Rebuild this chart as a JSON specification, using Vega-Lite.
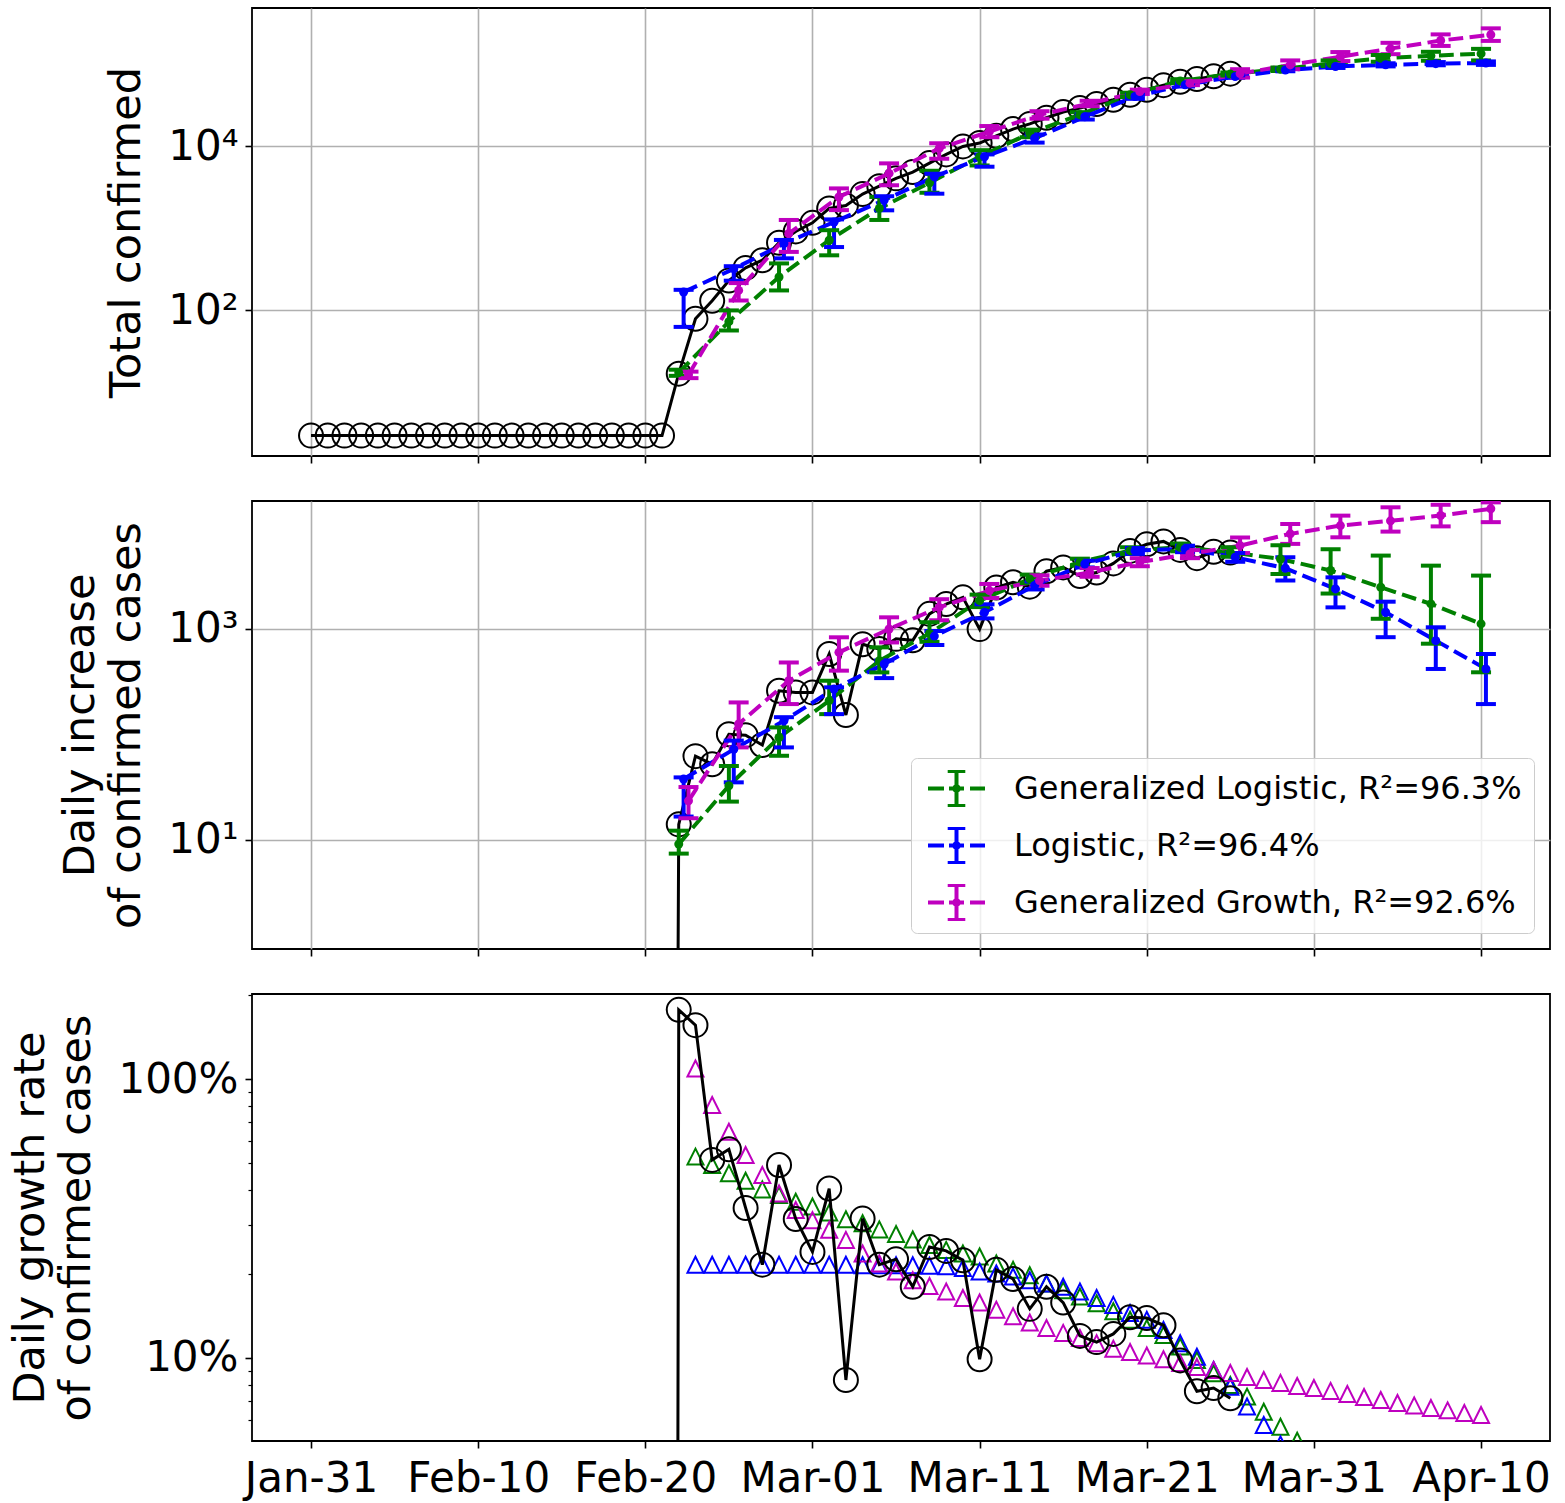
{
"$schema": "https://vega.github.io/schema/vega-lite/v6.json",
"padding": {"left": 9, "top": 7, "right": 10, "bottom": 5},
"autosize": {"type": "pad"},
"spacing": 45,
"bounds": "flush",
"datasets": {
"obsT": [{"t":"2020-01-31","v":3},{"t":"2020-02-01","v":3},{"t":"2020-02-02","v":3},{"t":"2020-02-03","v":3},{"t":"2020-02-04","v":3},{"t":"2020-02-05","v":3},{"t":"2020-02-06","v":3},{"t":"2020-02-07","v":3},{"t":"2020-02-08","v":3},{"t":"2020-02-09","v":3},{"t":"2020-02-10","v":3},{"t":"2020-02-11","v":3},{"t":"2020-02-12","v":3},{"t":"2020-02-13","v":3},{"t":"2020-02-14","v":3},{"t":"2020-02-15","v":3},{"t":"2020-02-16","v":3},{"t":"2020-02-17","v":3},{"t":"2020-02-18","v":3},{"t":"2020-02-19","v":3},{"t":"2020-02-20","v":3},{"t":"2020-02-21","v":3},{"t":"2020-02-22","v":17},{"t":"2020-02-23","v":79},{"t":"2020-02-24","v":131},{"t":"2020-02-25","v":231},{"t":"2020-02-26","v":329},{"t":"2020-02-27","v":408},{"t":"2020-02-28","v":666},{"t":"2020-02-29","v":914},{"t":"2020-03-01","v":1163},{"t":"2020-03-02","v":1738},{"t":"2020-03-03","v":1890},{"t":"2020-03-04","v":2602},{"t":"2020-03-05","v":3242},{"t":"2020-03-06","v":4042},{"t":"2020-03-07","v":4817},{"t":"2020-03-08","v":6197},{"t":"2020-03-09","v":7907},{"t":"2020-03-10","v":9887},{"t":"2020-03-11","v":10877},{"t":"2020-03-12","v":13327},{"t":"2020-03-13","v":16077},{"t":"2020-03-14","v":18577},{"t":"2020-03-15","v":22077},{"t":"2020-03-16","v":25877},{"t":"2020-03-17","v":29027},{"t":"2020-03-18","v":32427},{"t":"2020-03-19","v":36577},{"t":"2020-03-20","v":42027},{"t":"2020-03-21","v":48327},{"t":"2020-03-22","v":55027},{"t":"2020-03-23","v":60597},{"t":"2020-03-24","v":65247},{"t":"2020-03-25","v":70597},{"t":"2020-03-26","v":75847}],
"obsD": [{"t":"2020-02-21","v":1e-30},{"t":"2020-02-22","v":14},{"t":"2020-02-23","v":62},{"t":"2020-02-24","v":52},{"t":"2020-02-25","v":100},{"t":"2020-02-26","v":98},{"t":"2020-02-27","v":79},{"t":"2020-02-28","v":258},{"t":"2020-02-29","v":248},{"t":"2020-03-01","v":249},{"t":"2020-03-02","v":575},{"t":"2020-03-03","v":152},{"t":"2020-03-04","v":712},{"t":"2020-03-05","v":640},{"t":"2020-03-06","v":800},{"t":"2020-03-07","v":775},{"t":"2020-03-08","v":1380},{"t":"2020-03-09","v":1710},{"t":"2020-03-10","v":1980},{"t":"2020-03-11","v":990},{"t":"2020-03-12","v":2450},{"t":"2020-03-13","v":2750},{"t":"2020-03-14","v":2500},{"t":"2020-03-15","v":3500},{"t":"2020-03-16","v":3800},{"t":"2020-03-17","v":3150},{"t":"2020-03-18","v":3400},{"t":"2020-03-19","v":4150},{"t":"2020-03-20","v":5450},{"t":"2020-03-21","v":6300},{"t":"2020-03-22","v":6700},{"t":"2020-03-23","v":5570},{"t":"2020-03-24","v":4650},{"t":"2020-03-25","v":5350},{"t":"2020-03-26","v":5250}],
"obsR": [{"t":"2020-02-21","v":1e-30},{"t":"2020-02-22","v":1.77},{"t":"2020-02-23","v":1.56},{"t":"2020-02-24","v":0.513},{"t":"2020-02-25","v":0.56},{"t":"2020-02-26","v":0.345},{"t":"2020-02-27","v":0.216},{"t":"2020-02-28","v":0.492},{"t":"2020-02-29","v":0.315},{"t":"2020-03-01","v":0.24},{"t":"2020-03-02","v":0.405},{"t":"2020-03-03","v":0.0834},{"t":"2020-03-04","v":0.316},{"t":"2020-03-05","v":0.216},{"t":"2020-03-06","v":0.226},{"t":"2020-03-07","v":0.18},{"t":"2020-03-08","v":0.25},{"t":"2020-03-09","v":0.242},{"t":"2020-03-10","v":0.224},{"t":"2020-03-11","v":0.099},{"t":"2020-03-12","v":0.207},{"t":"2020-03-13","v":0.192},{"t":"2020-03-14","v":0.15},{"t":"2020-03-15","v":0.18},{"t":"2020-03-16","v":0.158},{"t":"2020-03-17","v":0.12},{"t":"2020-03-18","v":0.114},{"t":"2020-03-19","v":0.122},{"t":"2020-03-20","v":0.14},{"t":"2020-03-21","v":0.139},{"t":"2020-03-22","v":0.131},{"t":"2020-03-23","v":0.098},{"t":"2020-03-24","v":0.076},{"t":"2020-03-25","v":0.078},{"t":"2020-03-26","v":0.0717}],
"fitT": [
{"t":"2020-02-22T00:00Z","m":"GL","v":17.5,"lo":16,"hi":19},{"t":"2020-02-25T00:00Z","m":"GL","v":73,"lo":57,"hi":100},{"t":"2020-02-28T00:00Z","m":"GL","v":255,"lo":175,"hi":373},{"t":"2020-03-02T00:00Z","m":"GL","v":714,"lo":468,"hi":946},{"t":"2020-03-05T00:00Z","m":"GL","v":1740,"lo":1260,"hi":2400},{"t":"2020-03-08T00:00Z","m":"GL","v":3570,"lo":2700,"hi":5000},{"t":"2020-03-11T00:00Z","m":"GL","v":7400,"lo":5800,"hi":8900},{"t":"2020-03-14T00:00Z","m":"GL","v":14300,"lo":12800,"hi":15800},{"t":"2020-03-17T00:00Z","m":"GL","v":24000,"lo":22300,"hi":25800},{"t":"2020-03-20T00:00Z","m":"GL","v":42000,"lo":39500,"hi":44500},{"t":"2020-03-23T00:00Z","m":"GL","v":62000,"lo":59000,"hi":65000},{"t":"2020-03-26T00:00Z","m":"GL","v":75000,"lo":72000,"hi":78500},{"t":"2020-03-29T00:00Z","m":"GL","v":86000,"lo":82000,"hi":90000},{"t":"2020-04-01T00:00Z","m":"GL","v":101000,"lo":94000,"hi":110000},{"t":"2020-04-04T00:00Z","m":"GL","v":117000,"lo":106000,"hi":128000},{"t":"2020-04-07T00:00Z","m":"GL","v":125000,"lo":109000,"hi":140000},{"t":"2020-04-10T00:00Z","m":"GL","v":133000,"lo":110000,"hi":152000},
{"t":"2020-02-22T07:00Z","m":"L","v":167,"lo":63,"hi":178},{"t":"2020-02-25T07:00Z","m":"L","v":320,"lo":230,"hi":345},{"t":"2020-02-28T07:00Z","m":"L","v":650,"lo":430,"hi":720},{"t":"2020-03-02T07:00Z","m":"L","v":1190,"lo":590,"hi":1280},{"t":"2020-03-05T07:00Z","m":"L","v":2200,"lo":1650,"hi":2450},{"t":"2020-03-08T07:00Z","m":"L","v":4230,"lo":2630,"hi":4600},{"t":"2020-03-11T07:00Z","m":"L","v":7400,"lo":5600,"hi":7900},{"t":"2020-03-14T07:00Z","m":"L","v":12400,"lo":11000,"hi":13800},{"t":"2020-03-17T07:00Z","m":"L","v":22700,"lo":21000,"hi":24300},{"t":"2020-03-20T07:00Z","m":"L","v":40000,"lo":37500,"hi":42000},{"t":"2020-03-23T07:00Z","m":"L","v":55500,"lo":53000,"hi":58000},{"t":"2020-03-26T07:00Z","m":"L","v":70000,"lo":67500,"hi":72500},{"t":"2020-03-29T07:00Z","m":"L","v":84000,"lo":81000,"hi":87000},{"t":"2020-04-01T07:00Z","m":"L","v":92700,"lo":89000,"hi":96500},{"t":"2020-04-04T07:00Z","m":"L","v":97300,"lo":93000,"hi":101500},{"t":"2020-04-07T07:00Z","m":"L","v":100500,"lo":96000,"hi":105000},{"t":"2020-04-10T07:00Z","m":"L","v":102000,"lo":97000,"hi":107000},
{"t":"2020-02-22T14:00Z","m":"GG","v":16.5,"lo":15,"hi":18},{"t":"2020-02-25T14:00Z","m":"GG","v":175,"lo":132,"hi":215},{"t":"2020-02-28T14:00Z","m":"GG","v":861,"lo":515,"hi":1260},{"t":"2020-03-02T14:00Z","m":"GG","v":2400,"lo":1660,"hi":3050},{"t":"2020-03-05T14:00Z","m":"GG","v":4640,"lo":3330,"hi":6150},{"t":"2020-03-08T14:00Z","m":"GG","v":9350,"lo":7000,"hi":10800},{"t":"2020-03-11T14:00Z","m":"GG","v":15000,"lo":12800,"hi":17500},{"t":"2020-03-14T14:00Z","m":"GG","v":23900,"lo":21500,"hi":26500},{"t":"2020-03-17T14:00Z","m":"GG","v":33000,"lo":30500,"hi":35500},{"t":"2020-03-20T14:00Z","m":"GG","v":45900,"lo":43000,"hi":48500},{"t":"2020-03-23T14:00Z","m":"GG","v":58200,"lo":55000,"hi":61500},{"t":"2020-03-26T14:00Z","m":"GG","v":76000,"lo":68000,"hi":86000},{"t":"2020-03-29T14:00Z","m":"GG","v":97000,"lo":86000,"hi":110000},{"t":"2020-04-01T14:00Z","m":"GG","v":122000,"lo":108000,"hi":139000},{"t":"2020-04-04T14:00Z","m":"GG","v":153000,"lo":131000,"hi":180000},{"t":"2020-04-07T14:00Z","m":"GG","v":192000,"lo":165000,"hi":228000},{"t":"2020-04-10T14:00Z","m":"GG","v":226000,"lo":190000,"hi":270000}],
"fitD": [
{"t":"2020-02-22T00:00Z","m":"GL","v":9.1,"lo":7.4,"hi":12.2},{"t":"2020-02-25T00:00Z","m":"GL","v":32.5,"lo":23,"hi":50},{"t":"2020-02-28T00:00Z","m":"GL","v":93,"lo":62.5,"hi":116},{"t":"2020-03-02T00:00Z","m":"GL","v":208,"lo":155,"hi":321},{"t":"2020-03-05T00:00Z","m":"GL","v":497,"lo":385,"hi":665},{"t":"2020-03-08T00:00Z","m":"GL","v":900,"lo":750,"hi":1150},{"t":"2020-03-11T00:00Z","m":"GL","v":1840,"lo":1600,"hi":2100},{"t":"2020-03-14T00:00Z","m":"GL","v":2960,"lo":2700,"hi":3250},{"t":"2020-03-17T00:00Z","m":"GL","v":4270,"lo":3950,"hi":4600},{"t":"2020-03-20T00:00Z","m":"GL","v":5480,"lo":5100,"hi":5900},{"t":"2020-03-23T00:00Z","m":"GL","v":5900,"lo":5400,"hi":6400},{"t":"2020-03-26T00:00Z","m":"GL","v":5280,"lo":4800,"hi":5900},{"t":"2020-03-29T00:00Z","m":"GL","v":4570,"lo":3300,"hi":6150},{"t":"2020-04-01T00:00Z","m":"GL","v":3550,"lo":2150,"hi":5650},{"t":"2020-04-04T00:00Z","m":"GL","v":2465,"lo":1240,"hi":4920},{"t":"2020-04-07T00:00Z","m":"GL","v":1715,"lo":720,"hi":3950},{"t":"2020-04-10T00:00Z","m":"GL","v":1110,"lo":386,"hi":3180},
{"t":"2020-02-22T07:00Z","m":"L","v":37.6,"lo":16.6,"hi":39},{"t":"2020-02-25T07:00Z","m":"L","v":72,"lo":35,"hi":87},{"t":"2020-02-28T07:00Z","m":"L","v":134,"lo":75,"hi":145},{"t":"2020-03-02T07:00Z","m":"L","v":268,"lo":155,"hi":278},{"t":"2020-03-05T07:00Z","m":"L","v":462,"lo":340,"hi":500},{"t":"2020-03-08T07:00Z","m":"L","v":850,"lo":700,"hi":950},{"t":"2020-03-11T07:00Z","m":"L","v":1430,"lo":1250,"hi":1700},{"t":"2020-03-14T07:00Z","m":"L","v":2560,"lo":2350,"hi":2800},{"t":"2020-03-17T07:00Z","m":"L","v":4100,"lo":3800,"hi":4400},{"t":"2020-03-20T07:00Z","m":"L","v":5480,"lo":5100,"hi":5800},{"t":"2020-03-23T07:00Z","m":"L","v":5690,"lo":5300,"hi":6100},{"t":"2020-03-26T07:00Z","m":"L","v":4740,"lo":4300,"hi":5200},{"t":"2020-03-29T07:00Z","m":"L","v":3730,"lo":2850,"hi":4740},{"t":"2020-04-01T07:00Z","m":"L","v":2377,"lo":1590,"hi":3060},{"t":"2020-04-04T07:00Z","m":"L","v":1430,"lo":830,"hi":1800},{"t":"2020-04-07T07:00Z","m":"L","v":770,"lo":415,"hi":1030},{"t":"2020-04-10T07:00Z","m":"L","v":415,"lo":193,"hi":575},
{"t":"2020-02-22T14:00Z","m":"GG","v":23.4,"lo":16,"hi":31.6},{"t":"2020-02-25T14:00Z","m":"GG","v":125,"lo":75,"hi":200},{"t":"2020-02-28T14:00Z","m":"GG","v":321,"lo":193,"hi":478},{"t":"2020-03-02T14:00Z","m":"GG","v":596,"lo":400,"hi":828},{"t":"2020-03-05T14:00Z","m":"GG","v":993,"lo":740,"hi":1280},{"t":"2020-03-08T14:00Z","m":"GG","v":1590,"lo":1200,"hi":1900},{"t":"2020-03-11T14:00Z","m":"GG","v":2290,"lo":1950,"hi":2650},{"t":"2020-03-14T14:00Z","m":"GG","v":2850,"lo":2550,"hi":3200},{"t":"2020-03-17T14:00Z","m":"GG","v":3400,"lo":3100,"hi":3750},{"t":"2020-03-20T14:00Z","m":"GG","v":4270,"lo":3900,"hi":4650},{"t":"2020-03-23T14:00Z","m":"GG","v":5100,"lo":4650,"hi":5550},{"t":"2020-03-26T14:00Z","m":"GG","v":6120,"lo":5200,"hi":7300},{"t":"2020-03-29T14:00Z","m":"GG","v":7900,"lo":6350,"hi":9800},{"t":"2020-04-01T14:00Z","m":"GG","v":9460,"lo":7330,"hi":11760},{"t":"2020-04-04T14:00Z","m":"GG","v":10500,"lo":8300,"hi":14100},{"t":"2020-04-07T14:00Z","m":"GG","v":11800,"lo":9300,"hi":14900},{"t":"2020-04-10T14:00Z","m":"GG","v":13650,"lo":10200,"hi":15700}],
"fitR": [
{"t":"2020-02-23","m":"GL","v":0.527},{"t":"2020-02-24","m":"GL","v":0.492},{"t":"2020-02-25","m":"GL","v":0.459},{"t":"2020-02-26","m":"GL","v":0.432},{"t":"2020-02-27","m":"GL","v":0.402},{"t":"2020-02-28","m":"GL","v":0.384},{"t":"2020-02-29","m":"GL","v":0.363},{"t":"2020-03-01","m":"GL","v":0.349},{"t":"2020-03-02","m":"GL","v":0.332},{"t":"2020-03-03","m":"GL","v":0.314},{"t":"2020-03-04","m":"GL","v":0.304},{"t":"2020-03-05","m":"GL","v":0.289},{"t":"2020-03-06","m":"GL","v":0.278},{"t":"2020-03-07","m":"GL","v":0.266},{"t":"2020-03-08","m":"GL","v":0.254},{"t":"2020-03-09","m":"GL","v":0.244},{"t":"2020-03-10","m":"GL","v":0.237},{"t":"2020-03-11","m":"GL","v":0.231},{"t":"2020-03-12","m":"GL","v":0.218},{"t":"2020-03-13","m":"GL","v":0.207},{"t":"2020-03-14","m":"GL","v":0.198},{"t":"2020-03-15","m":"GL","v":0.185},{"t":"2020-03-16","m":"GL","v":0.175},{"t":"2020-03-17","m":"GL","v":0.166},{"t":"2020-03-18","m":"GL","v":0.157},{"t":"2020-03-19","m":"GL","v":0.147},{"t":"2020-03-20","m":"GL","v":0.137},{"t":"2020-03-21","m":"GL","v":0.128},{"t":"2020-03-22","m":"GL","v":0.121},{"t":"2020-03-23","m":"GL","v":0.11},{"t":"2020-03-24","m":"GL","v":0.0984},{"t":"2020-03-25","m":"GL","v":0.0882},{"t":"2020-03-26","m":"GL","v":0.08},{"t":"2020-03-27","m":"GL","v":0.0727},{"t":"2020-03-28","m":"GL","v":0.0642},{"t":"2020-03-29","m":"GL","v":0.0567},{"t":"2020-03-30","m":"GL","v":0.0505},{"t":"2020-03-31","m":"GL","v":0.044},{"t":"2020-04-01","m":"GL","v":0.038},{"t":"2020-04-02","m":"GL","v":0.033},
{"t":"2020-02-23","m":"L","v":0.216},{"t":"2020-02-24","m":"L","v":0.216},{"t":"2020-02-25","m":"L","v":0.216},{"t":"2020-02-26","m":"L","v":0.216},{"t":"2020-02-27","m":"L","v":0.216},{"t":"2020-02-28","m":"L","v":0.216},{"t":"2020-02-29","m":"L","v":0.216},{"t":"2020-03-01","m":"L","v":0.216},{"t":"2020-03-02","m":"L","v":0.216},{"t":"2020-03-03","m":"L","v":0.216},{"t":"2020-03-04","m":"L","v":0.215},{"t":"2020-03-05","m":"L","v":0.215},{"t":"2020-03-06","m":"L","v":0.215},{"t":"2020-03-07","m":"L","v":0.215},{"t":"2020-03-08","m":"L","v":0.214},{"t":"2020-03-09","m":"L","v":0.213},{"t":"2020-03-10","m":"L","v":0.21},{"t":"2020-03-11","m":"L","v":0.204},{"t":"2020-03-12","m":"L","v":0.201},{"t":"2020-03-13","m":"L","v":0.196},{"t":"2020-03-14","m":"L","v":0.19},{"t":"2020-03-15","m":"L","v":0.185},{"t":"2020-03-16","m":"L","v":0.18},{"t":"2020-03-17","m":"L","v":0.173},{"t":"2020-03-18","m":"L","v":0.164},{"t":"2020-03-19","m":"L","v":0.155},{"t":"2020-03-20","m":"L","v":0.145},{"t":"2020-03-21","m":"L","v":0.137},{"t":"2020-03-22","m":"L","v":0.126},{"t":"2020-03-23","m":"L","v":0.113},{"t":"2020-03-24","m":"L","v":0.101},{"t":"2020-03-25","m":"L","v":0.0906},{"t":"2020-03-26","m":"L","v":0.0789},{"t":"2020-03-27","m":"L","v":0.067},{"t":"2020-03-28","m":"L","v":0.0575},{"t":"2020-03-29","m":"L","v":0.049},{"t":"2020-03-30","m":"L","v":0.042},{"t":"2020-03-31","m":"L","v":0.035},
{"t":"2020-02-23","m":"GG","v":1.09},{"t":"2020-02-24","m":"GG","v":0.807},{"t":"2020-02-25","m":"GG","v":0.647},{"t":"2020-02-26","m":"GG","v":0.534},{"t":"2020-02-27","m":"GG","v":0.453},{"t":"2020-02-28","m":"GG","v":0.389},{"t":"2020-02-29","m":"GG","v":0.339},{"t":"2020-03-01","m":"GG","v":0.312},{"t":"2020-03-02","m":"GG","v":0.288},{"t":"2020-03-03","m":"GG","v":0.265},{"t":"2020-03-04","m":"GG","v":0.237},{"t":"2020-03-05","m":"GG","v":0.218},{"t":"2020-03-06","m":"GG","v":0.204},{"t":"2020-03-07","m":"GG","v":0.19},{"t":"2020-03-08","m":"GG","v":0.181},{"t":"2020-03-09","m":"GG","v":0.173},{"t":"2020-03-10","m":"GG","v":0.164},{"t":"2020-03-11","m":"GG","v":0.158},{"t":"2020-03-12","m":"GG","v":0.149},{"t":"2020-03-13","m":"GG","v":0.141},{"t":"2020-03-14","m":"GG","v":0.134},{"t":"2020-03-15","m":"GG","v":0.128},{"t":"2020-03-16","m":"GG","v":0.123},{"t":"2020-03-17","m":"GG","v":0.118},{"t":"2020-03-18","m":"GG","v":0.113},{"t":"2020-03-19","m":"GG","v":0.108},{"t":"2020-03-20","m":"GG","v":0.105},{"t":"2020-03-21","m":"GG","v":0.102},{"t":"2020-03-22","m":"GG","v":0.099},{"t":"2020-03-23","m":"GG","v":0.0959},{"t":"2020-03-24","m":"GG","v":0.0928},{"t":"2020-03-25","m":"GG","v":0.0905},{"t":"2020-03-26","m":"GG","v":0.0883},{"t":"2020-03-27","m":"GG","v":0.0855},{"t":"2020-03-28","m":"GG","v":0.0834},{"t":"2020-03-29","m":"GG","v":0.0814},{"t":"2020-03-30","m":"GG","v":0.0794},{"t":"2020-03-31","m":"GG","v":0.0781},{"t":"2020-04-01","m":"GG","v":0.0762},{"t":"2020-04-02","m":"GG","v":0.0743},{"t":"2020-04-03","m":"GG","v":0.0725},{"t":"2020-04-04","m":"GG","v":0.0707},{"t":"2020-04-05","m":"GG","v":0.069},{"t":"2020-04-06","m":"GG","v":0.0676},{"t":"2020-04-07","m":"GG","v":0.0662},{"t":"2020-04-08","m":"GG","v":0.0649},{"t":"2020-04-09","m":"GG","v":0.0635},{"t":"2020-04-10","m":"GG","v":0.0625}]
},
"vconcat": [
{
"width": 1298, "height": 448,
"layer": [
{"data": {"name": "obsT"}, "mark": {"type": "line", "color": "black", "strokeWidth": 3, "clip": true},
 "encoding": {
  "x": {"field": "t", "type": "temporal", "scale": {"type": "utc", "nice": false, "domain": [{"year":2020,"month":1,"date":27,"hours":11,"minutes":15,"utc":true},{"year":2020,"month":4,"date":14,"hours":3,"utc":true}]},
        "axis": {"values": [{"year":2020,"month":1,"date":31,"utc":true},{"year":2020,"month":2,"date":10,"utc":true},{"year":2020,"month":2,"date":20,"utc":true},{"year":2020,"month":3,"date":1,"utc":true},{"year":2020,"month":3,"date":11,"utc":true},{"year":2020,"month":3,"date":21,"utc":true},{"year":2020,"month":3,"date":31,"utc":true},{"year":2020,"month":4,"date":10,"utc":true}], "labels": false, "grid": true, "title": null}},
  "y": {"field": "v", "type": "quantitative", "title": "Total confirmed", "scale": {"type": "log", "nice": false, "domain": [1.694, 477500]},
        "axis": {"values": [100, 10000], "labelExpr": "datum.value < 1000 ? '10²' : '10⁴'", "grid": true}}}},
{"data": {"name": "obsT"}, "mark": {"type": "point", "shape": "circle", "size": 576, "color": "black", "filled": false, "strokeWidth": 2, "opacity": 1, "clip": true},
 "encoding": {"x": {"field": "t", "type": "temporal"}, "y": {"field": "v", "type": "quantitative", "title": "Total confirmed"}}},
{"data": {"name": "fitT"}, "mark": {"type": "line", "strokeWidth": 4, "strokeDash": [14.8, 6.4], "clip": true},
 "encoding": {"x": {"field": "t", "type": "temporal"}, "y": {"field": "v", "type": "quantitative", "title": "Total confirmed"},
  "color": {"field": "m", "type": "nominal", "scale": {"domain": ["GL","L","GG"], "range": ["#008000","#0000ff","#bf00bf"]}, "legend": null}}},
{"data": {"name": "fitT"}, "mark": {"type": "rule", "strokeWidth": 4, "clip": true},
 "encoding": {"x": {"field": "t", "type": "temporal"}, "y": {"field": "lo", "type": "quantitative", "title": "Total confirmed"}, "y2": {"field": "hi"},
  "color": {"field": "m", "type": "nominal", "legend": null}}},
{"data": {"name": "fitT"}, "mark": {"type": "tick", "orient": "horizontal", "size": 20, "thickness": 4, "opacity": 1, "clip": true},
 "encoding": {"x": {"field": "t", "type": "temporal"}, "y": {"field": "lo", "type": "quantitative", "title": "Total confirmed"}, "color": {"field": "m", "type": "nominal", "legend": null}}},
{"data": {"name": "fitT"}, "mark": {"type": "tick", "orient": "horizontal", "size": 20, "thickness": 4, "opacity": 1, "clip": true},
 "encoding": {"x": {"field": "t", "type": "temporal"}, "y": {"field": "hi", "type": "quantitative", "title": "Total confirmed"}, "color": {"field": "m", "type": "nominal", "legend": null}}},
{"data": {"name": "fitT"}, "mark": {"type": "point", "shape": "circle", "size": 81, "filled": true, "opacity": 1, "clip": true},
 "encoding": {"x": {"field": "t", "type": "temporal"}, "y": {"field": "v", "type": "quantitative", "title": "Total confirmed"}, "color": {"field": "m", "type": "nominal", "legend": null}}}
]
},
{
"width": 1298, "height": 448,
"layer": [
{"data": {"name": "obsD"}, "mark": {"type": "line", "color": "black", "strokeWidth": 3, "clip": true},
 "encoding": {
  "x": {"field": "t", "type": "temporal", "scale": {"type": "utc", "nice": false, "domain": [{"year":2020,"month":1,"date":27,"hours":11,"minutes":15,"utc":true},{"year":2020,"month":4,"date":14,"hours":3,"utc":true}]},
        "axis": {"values": [{"year":2020,"month":1,"date":31,"utc":true},{"year":2020,"month":2,"date":10,"utc":true},{"year":2020,"month":2,"date":20,"utc":true},{"year":2020,"month":3,"date":1,"utc":true},{"year":2020,"month":3,"date":11,"utc":true},{"year":2020,"month":3,"date":21,"utc":true},{"year":2020,"month":3,"date":31,"utc":true},{"year":2020,"month":4,"date":10,"utc":true}], "labels": false, "grid": true, "title": null}},
  "y": {"field": "v", "type": "quantitative", "title": ["Daily increase", "of confirmed cases"], "scale": {"type": "log", "nice": false, "domain": [0.924, 16180]},
        "axis": {"values": [10, 1000], "labelExpr": "datum.value < 100 ? '10¹' : '10³'", "grid": true}}}},
{"data": {"name": "obsD"}, "mark": {"type": "point", "shape": "circle", "size": 576, "color": "black", "filled": false, "strokeWidth": 2, "opacity": 1, "clip": true},
 "encoding": {"x": {"field": "t", "type": "temporal"}, "y": {"field": "v", "type": "quantitative", "title": ["Daily increase", "of confirmed cases"]}}},
{"data": {"name": "fitD"}, "mark": {"type": "line", "strokeWidth": 4, "strokeDash": [14.8, 6.4], "clip": true},
 "encoding": {"x": {"field": "t", "type": "temporal"}, "y": {"field": "v", "type": "quantitative", "title": ["Daily increase", "of confirmed cases"]},
  "color": {"field": "m", "type": "nominal", "scale": {"domain": ["GL","L","GG"], "range": ["#008000","#0000ff","#bf00bf"]},
   "legend": {"orient": "bottom-right", "offset": 16, "title": null,
     "symbolType": "M-0.833,0L0.056,0M0.333,0L1.167,0M1.5,0L2.333,0M0.75,-0.972L0.75,0.972M0.261,-0.972L1.239,-0.972M0.261,0.972L1.239,0.972M0.88,0A0.13,0.13,0,1,1,0.62,0A0.13,0.13,0,1,1,0.88,0Z",
     "symbolSize": 1296, "symbolStrokeWidth": 4, "labelFontSize": 32, "labelFont": "DejaVu Sans", "labelColor": "black", "labelOffset": 51, "rowPadding": 20, "padding": 12, "clipHeight": 37,
     "strokeColor": "#cccccc", "fillColor": "rgba(255,255,255,0.8)", "cornerRadius": 6, "labelLimit": 0,
     "labelExpr": "datum.label == 'GL' ? 'Generalized Logistic, R²=96.3%' : datum.label == 'L' ? 'Logistic, R²=96.4%' : 'Generalized Growth, R²=92.6%'"}}}},
{"data": {"name": "fitD"}, "mark": {"type": "rule", "strokeWidth": 4, "clip": true},
 "encoding": {"x": {"field": "t", "type": "temporal"}, "y": {"field": "lo", "type": "quantitative", "title": ["Daily increase", "of confirmed cases"]}, "y2": {"field": "hi"},
  "color": {"field": "m", "type": "nominal"}}},
{"data": {"name": "fitD"}, "mark": {"type": "tick", "orient": "horizontal", "size": 20, "thickness": 4, "opacity": 1, "clip": true},
 "encoding": {"x": {"field": "t", "type": "temporal"}, "y": {"field": "lo", "type": "quantitative", "title": ["Daily increase", "of confirmed cases"]}, "color": {"field": "m", "type": "nominal"}}},
{"data": {"name": "fitD"}, "mark": {"type": "tick", "orient": "horizontal", "size": 20, "thickness": 4, "opacity": 1, "clip": true},
 "encoding": {"x": {"field": "t", "type": "temporal"}, "y": {"field": "hi", "type": "quantitative", "title": ["Daily increase", "of confirmed cases"]}, "color": {"field": "m", "type": "nominal"}}},
{"data": {"name": "fitD"}, "mark": {"type": "point", "shape": "circle", "size": 81, "filled": true, "opacity": 1, "clip": true},
 "encoding": {"x": {"field": "t", "type": "temporal"}, "y": {"field": "v", "type": "quantitative", "title": ["Daily increase", "of confirmed cases"]}, "color": {"field": "m", "type": "nominal"}}}
]
},
{
"width": 1298, "height": 447,
"resolve": {"scale": {"y": "independent"}, "axis": {"y": "independent"}},
"layer": [
{"data": {"name": "fitR"}, "mark": {"type": "point", "shape": "M0,-1L-1,1L1,1Z", "size": 256, "filled": false, "strokeWidth": 2, "opacity": 1, "clip": true},
 "encoding": {
  "x": {"field": "t", "type": "temporal", "scale": {"type": "utc", "nice": false, "domain": [{"year":2020,"month":1,"date":27,"hours":11,"minutes":15,"utc":true},{"year":2020,"month":4,"date":14,"hours":3,"utc":true}]},
        "axis": {"values": [{"year":2020,"month":1,"date":31,"utc":true},{"year":2020,"month":2,"date":10,"utc":true},{"year":2020,"month":2,"date":20,"utc":true},{"year":2020,"month":3,"date":1,"utc":true},{"year":2020,"month":3,"date":11,"utc":true},{"year":2020,"month":3,"date":21,"utc":true},{"year":2020,"month":3,"date":31,"utc":true},{"year":2020,"month":4,"date":10,"utc":true}], "format": "%b-%d", "grid": false, "title": null, "labelPadding": 10}},
  "y": {"field": "v", "type": "quantitative", "title": ["Daily growth rate", "of confirmed cases"], "scale": {"type": "log", "nice": false, "domain": [0.0504, 2.017]},
        "axis": {"values": [0.1, 1], "labelExpr": "datum.value < 0.5 ? '10%' : '100%'", "grid": false}},
  "color": {"field": "m", "type": "nominal", "scale": {"domain": ["GL","L","GG"], "range": ["#008000","#0000ff","#bf00bf"]}, "legend": null}}},
{"data": {"name": "obsR"},
 "layer": [
  {"mark": {"type": "line", "color": "black", "strokeWidth": 3, "clip": true},
   "encoding": {"x": {"field": "t", "type": "temporal"},
     "y": {"field": "v", "type": "quantitative", "title": null, "scale": {"type": "log", "nice": false, "domain": [0.0504, 2.017]},
       "axis": {"orient": "left", "values": [0.06, 0.07, 0.08, 0.09, 0.2, 0.3, 0.4, 0.5, 0.6, 0.7, 0.8, 0.9, 2], "labels": false, "grid": false, "tickSize": 4, "tickWidth": 1.2, "title": null}}}},
  {"mark": {"type": "point", "shape": "circle", "size": 576, "color": "black", "filled": false, "strokeWidth": 2, "opacity": 1, "clip": true},
   "encoding": {"x": {"field": "t", "type": "temporal"}, "y": {"field": "v", "type": "quantitative", "title": null}}}
 ]}
]
}
],
"resolve": {"scale": {"x": "independent", "y": "independent", "color": "independent"}, "axis": {"x": "independent", "y": "independent"}, "legend": {"color": "independent"}},
"config": {
 "font": "DejaVu Sans",
 "view": {"stroke": "black", "strokeWidth": 1.8},
 "axis": {"domain": false, "tickColor": "black", "tickWidth": 1.6, "tickSize": 7, "labelFont": "DejaVu Sans", "labelFontSize": 42, "labelColor": "black", "labelPadding": 7,
   "titleFont": "DejaVu Sans", "titleFontSize": 43, "titleFontWeight": "normal", "titleColor": "black", "titleLineHeight": 46, "titlePadding": 19,
   "gridColor": "#b0b0b0", "gridWidth": 1.6, "gridOpacity": 1, "labelOverlap": false, "labelFlush": false}
}
}
